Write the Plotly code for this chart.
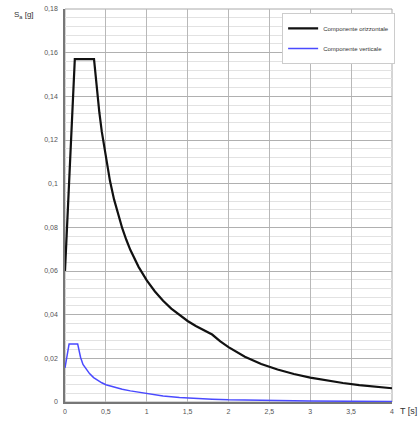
import plotly.graph_objects as go

# Horizontal component (Componente orizzontale)
T_h = [0, 0.12, 0.355, 0.38, 0.42, 0.45, 0.5, 0.55, 0.6, 0.65, 0.7, 0.75, 0.8, 0.9, 1.0,
       1.1, 1.2, 1.3, 1.4, 1.5, 1.6, 1.7, 1.8, 1.9, 2.0, 2.2, 2.4, 2.6, 2.8, 3.0, 3.2,
       3.4, 3.6, 3.8, 4.0]
Sa_h = [0.060, 0.157, 0.157, 0.1466, 0.1326, 0.1238, 0.1114, 0.1013, 0.0928, 0.0857,
        0.0796, 0.0743, 0.0696, 0.0619, 0.0557, 0.0506, 0.0464, 0.0428, 0.0398, 0.0371,
        0.0348, 0.0328, 0.0309, 0.0278, 0.0251, 0.0207, 0.0174, 0.0149, 0.0128, 0.0112,
        0.0098, 0.0087, 0.0077, 0.0070, 0.0063]

# Vertical component (Componente verticale)
T_v = [0, 0.05, 0.155, 0.19, 0.22, 0.26, 0.3, 0.35, 0.4, 0.45, 0.5, 0.6, 0.7, 0.8, 0.9,
       1.0, 1.2, 1.4, 1.6, 1.8, 2.0, 2.5, 3.0, 3.5, 4.0]
Sa_v = [0.0156, 0.0266, 0.0266, 0.0205, 0.0172, 0.0148, 0.0130, 0.0112, 0.0098, 0.0088,
        0.0079, 0.0067, 0.0058, 0.0051, 0.0045, 0.0041, 0.0028, 0.0021, 0.0016, 0.0013,
        0.0010, 0.00066, 0.00046, 0.00033, 0.00026]

x_ticks = [0, 0.5, 1, 1.5, 2, 2.5, 3, 3.5, 4]
x_tick_labels = ["0", "0,5", "1", "1,5", "2", "2,5", "3", "3,5", "4"]
y_ticks = [0, 0.02, 0.04, 0.06, 0.08, 0.1, 0.12, 0.14, 0.16, 0.18]
y_tick_labels = ["0", "0,02", "0,04", "0,06", "0,08", "0,1", "0,12", "0,14", "0,16", "0,18"]

fig = go.Figure()
fig.add_trace(go.Scatter(x=T_h, y=Sa_h, mode="lines", name="Componente orizzontale",
                         line=dict(color="#111111", width=2.2), legendgroup="a"))
fig.add_trace(go.Scatter(x=T_v, y=Sa_v, mode="lines", name="Componente verticale",
                         line=dict(color="#4a4aff", width=1.5), legendgroup="b"))

tickfont = dict(family="Liberation Sans, Arial, sans-serif", size=7, color="#555555")

fig.update_layout(
    width=419, height=421,
    margin=dict(l=65, r=27, t=9, b=19),
    paper_bgcolor="white", plot_bgcolor="white",
    font=dict(family="Liberation Sans, Arial, sans-serif"),
    showlegend=True,
    legend=dict(x=0.664, y=0.99, xanchor="left", yanchor="top",
                bgcolor="white", bordercolor="#cccccc", borderwidth=1,
                font=dict(size=6, color="#333333"), tracegroupgap=1,
                traceorder="grouped", itemwidth=30),
    xaxis=dict(range=[0, 4], tickvals=x_ticks, ticktext=x_tick_labels,
               tickfont=tickfont, showgrid=True, gridcolor="#b8b8b8", gridwidth=1,
               showline=True, linecolor="#777777", linewidth=1.5, mirror=False,
               zeroline=False, ticks="", ticklabelstandoff=2, fixedrange=True,
               automargin=False),
    yaxis=dict(range=[0, 0.18], tickvals=y_ticks, ticktext=y_tick_labels,
               tickfont=tickfont, showgrid=True, gridcolor="#b0b0b0", gridwidth=1,
               minor=dict(dtick=0.004, showgrid=True, gridcolor="#e2e2e2", gridwidth=1),
               showline=True, linecolor="#777777", linewidth=1.5,
               zeroline=False, ticks="", ticklabelstandoff=4, fixedrange=True,
               automargin=False),
    shapes=[dict(type="rect", xref="paper", yref="paper", x0=0, y0=0, x1=1, y1=1,
                 line=dict(color="#aaaaaa", width=1), layer="below")],
    annotations=[
        dict(text="S<sub>a</sub> [g]", xref="paper", yref="paper", x=-0.089, y=0.985,
             xanchor="right", yanchor="middle", showarrow=False,
             font=dict(size=8, color="#333333")),
        dict(text="T [s]", xref="paper", yref="paper", x=1.018, y=-0.004,
             xanchor="left", yanchor="top", showarrow=False,
             font=dict(size=9, color="#333333")),
    ],
)

fig.write_html(
    "out.html",
    config={"displayModeBar": False},
    post_script="document.body.style.margin='0';"
                "document.body.style.overflow='hidden';"
                "document.documentElement.style.overflow='hidden';",
)
